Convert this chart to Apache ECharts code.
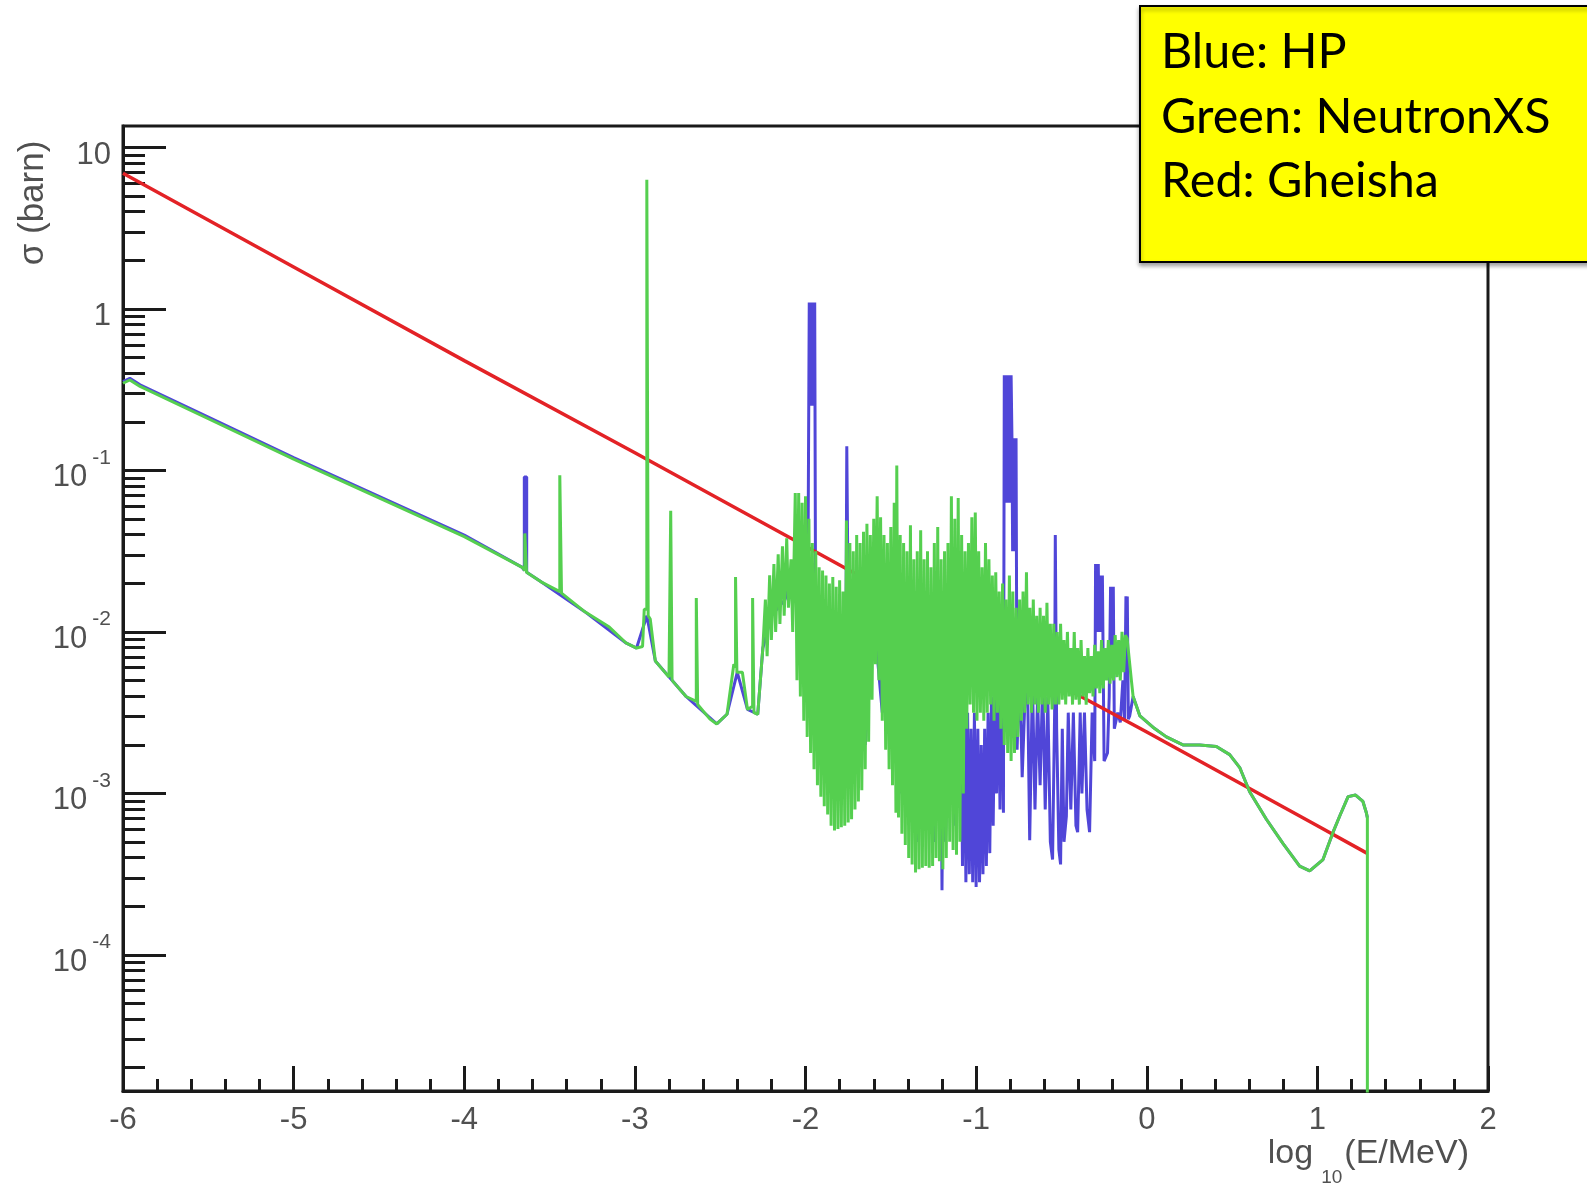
<!DOCTYPE html>
<html>
<head>
<meta charset="utf-8">
<script src="https://cdn.jsdelivr.net/npm/echarts@6/dist/echarts.min.js"></script>
<style>
html,body{margin:0;padding:0;background:#fff;}
#chart{width:1587px;height:1189px;}
</style>
</head>
<body>
<div id="chart"></div>
<script>
// x: log10(E/MeV); y: log10(sigma / barn)
const xTickLabels = [-6,-5,-4,-3,-2,-1,0,1,2];
const yDecades = [-4,-3,-2,-1,0,1];
const legendLines = ['Blue: HP','Green: NeutronXS','Red: Gheisha'];

// Red: Gheisha
const gheishaPoints = [[-6,0.84],[-5,0.26],[-4,-0.32],[-3,-0.89],[-2,-1.47],[-1,-2.05],[0,-2.62],[1,-3.20],[1.29,-3.37]];

// Blue: HP
const hpPoints = [
[-6.00,-0.45],[-5.96,-0.43],[-5.90,-0.47],[-5.50,-0.67],[-5.00,-0.92],[-4.50,-1.16],[-4.00,-1.40],
[-3.66,-1.60],[-3.648,-1.62],[-3.648,-1.04],[-3.634,-1.04],[-3.634,-1.63],[-3.55,-1.69],[-3.30,-1.87],
[-3.05,-2.07],[-2.99,-2.10],[-2.93,-1.90],[-2.88,-2.18],[-2.70,-2.40],[-2.52,-2.57],[-2.46,-2.51],
[-2.40,-2.25],[-2.34,-2.48],[-2.28,-2.51],[-2.25,-2.10],[-2.20,-1.90],[-2.12,-1.80],[-2.06,-1.60],
[-2.00,-2.10],[-1.985,-1.50],
[-1.978,0.04],[-1.974,-0.60],[-1.970,0.04],[-1.966,-0.60],[-1.962,0.04],[-1.958,-0.60],[-1.954,0.04],[-1.950,-0.60],[-1.946,0.04],
[-1.94,-2.20],[-1.93,-2.60],[-1.88,-2.00],
[-1.83,-2.90],[-1.80,-2.00],[-1.765,-2.50],[-1.758,-0.85],[-1.752,-0.85],[-1.745,-2.50],[-1.70,-2.00],
[-1.65,-2.70],[-1.60,-1.90],[-1.55,-2.50],[-1.50,-2.00],[-1.45,-3.00],[-1.40,-2.00],[-1.35,-3.30],
[-1.30,-2.00],[-1.25,-3.30],[-1.21,-2.00],[-1.20,-3.60],[-1.19,-2.20],[-1.18,-3.30],[-1.14,-2.00],
[-1.12,-3.20],[-1.09,-2.20],[-1.08,-3.45],[-1.07,-2.40],[-1.06,-3.55],[-1.05,-2.50],[-1.04,-3.50],
[-1.03,-2.60],[-1.02,-3.55],[-1.01,-2.50],[-1.00,-3.58],[-0.99,-2.60],[-0.98,-3.55],[-0.97,-2.70],
[-0.96,-3.50],[-0.95,-2.60],[-0.94,-3.45],[-0.93,-2.50],[-0.92,-3.37],[-0.91,-2.40],[-0.90,-3.20],
[-0.89,-2.30],[-0.88,-3.00],[-0.87,-2.20],[-0.86,-3.10],[-0.85,-2.00],[-0.84,-3.12],
[-0.835,-0.41],[-0.831,-1.20],[-0.827,-0.41],[-0.823,-1.20],[-0.819,-0.41],[-0.815,-1.20],[-0.811,-0.41],[-0.807,-1.20],[-0.803,-0.41],[-0.799,-1.20],[-0.795,-0.41],
[-0.790,-0.80],[-0.786,-1.50],[-0.782,-0.80],[-0.778,-1.50],[-0.774,-0.80],[-0.770,-1.50],[-0.766,-0.80],
[-0.76,-2.73],[-0.745,-2.20],[-0.73,-2.90],[-0.71,-2.30],[-0.70,-2.20],[-0.686,-3.29],[-0.67,-2.30],
[-0.655,-3.10],[-0.64,-2.40],[-0.625,-2.95],[-0.61,-2.30],[-0.595,-3.10],[-0.58,-2.40],[-0.565,-3.30],
[-0.552,-3.41],[-0.54,-2.50],[-0.536,-1.40],[-0.532,-1.40],[-0.528,-2.60],[-0.515,-3.35],[-0.505,-3.44],
[-0.495,-2.60],[-0.485,-3.30],[-0.471,-3.14],[-0.46,-2.50],[-0.445,-3.10],[-0.43,-2.50],[-0.415,-3.20],
[-0.405,-3.24],[-0.39,-2.50],[-0.38,-3.00],[-0.365,-2.50],[-0.35,-3.10],[-0.335,-3.24],[-0.32,-2.50],
[-0.305,-2.80],
[-0.300,-1.58],[-0.296,-2.00],[-0.292,-1.58],[-0.288,-2.00],[-0.284,-1.58],[-0.280,-2.00],
[-0.276,-1.65],[-0.272,-2.00],[-0.268,-1.65],[-0.264,-2.00],[-0.260,-1.65],
[-0.25,-2.80],[-0.23,-2.75],[-0.22,-2.40],
[-0.212,-1.72],[-0.208,-2.10],[-0.204,-1.72],[-0.200,-2.10],[-0.196,-1.72],
[-0.19,-2.60],[-0.17,-2.50],[-0.155,-2.56],[-0.14,-2.30],
[-0.13,-2.55],[-0.122,-1.78],[-0.118,-2.10],[-0.114,-1.78],[-0.108,-2.54],[-0.10,-2.52],[-0.08,-2.40],[-0.04,-2.52],
[0.036,-2.59],[0.115,-2.65],[0.212,-2.70],[0.31,-2.70],[0.408,-2.71],[0.486,-2.76],[0.545,-2.84],
[0.603,-2.99],[0.701,-3.16],[0.798,-3.31],[0.896,-3.45],[0.955,-3.48],[1.033,-3.41],[1.092,-3.24],
[1.131,-3.14],[1.18,-3.02],[1.224,-3.01],[1.267,-3.05],[1.287,-3.12],[1.293,-3.15]
];

// Green: NeutronXS
const neutronXSPoints = [
[-6.00,-0.46],[-5.96,-0.44],[-5.90,-0.48],[-5.50,-0.68],[-5.00,-0.93],[-4.50,-1.17],[-4.00,-1.41],
[-3.66,-1.60],[-3.645,-1.62],[-3.645,-1.39],[-3.635,-1.39],[-3.635,-1.63],[-3.55,-1.69],[-3.44,-1.75],
[-3.44,-1.03],[-3.43,-1.03],[-3.43,-1.76],[-3.30,-1.87],[-3.15,-1.97],[-3.05,-2.07],[-2.99,-2.10],
[-2.955,-2.09],[-2.945,-1.86],[-2.93,-1.86],[-2.93,0.80],[-2.922,0.80],[-2.922,-1.90],[-2.91,-1.92],
[-2.88,-2.18],[-2.80,-2.28],[-2.79,-2.29],[-2.79,-1.25],[-2.782,-1.25],[-2.782,-2.30],[-2.70,-2.40],
[-2.64,-2.43],[-2.64,-1.79],[-2.632,-1.79],[-2.632,-2.45],[-2.56,-2.54],[-2.52,-2.57],[-2.46,-2.51],
[-2.42,-2.20],[-2.41,-2.22],[-2.41,-1.66],[-2.402,-1.66],[-2.402,-2.25],[-2.37,-2.25],[-2.34,-2.48],
[-2.31,-2.46],[-2.31,-1.79],[-2.302,-1.79],[-2.302,-2.50],[-2.28,-2.51],[-2.25,-2.10],
[-2.235,-1.80],[-2.225,-2.15],[-2.21,-1.65],[-2.20,-2.05],[-2.185,-1.58],[-2.175,-2.00],[-2.16,-1.52],
[-2.15,-1.95],[-2.135,-1.47],[-2.125,-1.90],[-2.11,-1.42],[-2.10,-1.85],[-2.085,-1.55],[-2.075,-2.00],
[-2.06,-1.14],[-2.05,-2.30],[-2.04,-1.14],[-2.03,-2.40],[-2.02,-1.20],[-2.01,-2.55],[-2.00,-1.16],
[-1.99,-2.65],[-1.98,-1.30],[-1.97,-2.75],[-1.96,-1.45],[-1.95,-2.85],[-1.94,-1.50],[-1.93,-2.95],
[-1.92,-1.60],[-1.91,-3.02],[-1.90,-1.62],[-1.89,-3.08],[-1.88,-1.65],[-1.87,-3.13],[-1.86,-1.70],
[-1.85,-3.20],[-1.84,-1.66],[-1.83,-3.23],[-1.82,-1.72],[-1.81,-3.22],[-1.80,-1.68],[-1.79,-3.21],
[-1.78,-1.75],[-1.77,-3.20],[-1.76,-1.31],[-1.75,-3.18],[-1.74,-1.45],[-1.73,-3.16],[-1.72,-1.50],
[-1.71,-3.10],[-1.70,-1.40],[-1.69,-3.05],[-1.68,-1.45],[-1.67,-2.98],[-1.66,-1.38],[-1.65,-2.85],
[-1.64,-1.33],[-1.63,-2.68],[-1.62,-1.40],[-1.61,-2.42],[-1.60,-1.30],[-1.59,-2.20],[-1.58,-1.16],
[-1.57,-2.30],[-1.56,-1.29],[-1.55,-2.55],[-1.54,-1.40],[-1.53,-2.73],[-1.52,-1.45],[-1.51,-2.85],
[-1.50,-1.35],[-1.49,-2.95],[-1.48,-1.20],[-1.47,-3.12],[-1.465,-0.97],[-1.455,-3.15],[-1.445,-1.40],
[-1.435,-3.25],[-1.425,-1.45],[-1.415,-3.32],[-1.405,-1.50],[-1.395,-3.40],[-1.385,-1.34],[-1.375,-3.44],
[-1.365,-1.55],[-1.355,-3.49],[-1.345,-1.50],[-1.335,-3.47],[-1.325,-1.37],[-1.315,-3.46],[-1.305,-1.55],
[-1.295,-3.45],[-1.285,-1.50],[-1.275,-3.46],[-1.265,-1.60],[-1.255,-3.45],[-1.245,-1.45],[-1.235,-3.40],
[-1.225,-1.35],[-1.215,-3.42],[-1.205,-1.55],[-1.195,-3.47],[-1.185,-1.50],[-1.175,-3.40],[-1.165,-1.45],
[-1.155,-3.30],[-1.145,-1.16],[-1.135,-3.35],[-1.125,-1.30],[-1.115,-3.38],[-1.105,-1.17],[-1.095,-3.30],
[-1.085,-1.40],[-1.075,-3.00],[-1.065,-1.50],[-1.055,-2.60],[-1.045,-1.45],[-1.035,-2.45],[-1.025,-1.29],
[-1.015,-2.50],[-1.005,-1.26],[-0.995,-2.55],[-0.985,-1.50],[-0.975,-2.50],[-0.965,-1.60],[-0.955,-2.55],
[-0.945,-1.45],[-0.935,-2.50],[-0.925,-1.55],[-0.915,-2.45],[-0.905,-1.65],[-0.895,-2.55],[-0.885,-1.63],
[-0.875,-2.50],[-0.865,-1.75],[-0.855,-2.60],[-0.845,-1.70],[-0.835,-2.70],[-0.825,-1.80],[-0.815,-2.75],
[-0.805,-1.65],[-0.795,-2.80],[-0.785,-1.75],[-0.775,-2.75],[-0.765,-1.85],[-0.755,-2.65],[-0.745,-1.80],
[-0.735,-2.55],[-0.725,-1.75],[-0.715,-2.50],[-0.705,-1.63],[-0.695,-2.45],[-0.685,-1.85],[-0.675,-2.50],
[-0.665,-1.80],[-0.655,-2.45],[-0.645,-1.90],[-0.635,-2.50],[-0.625,-1.85],[-0.615,-2.45],[-0.605,-1.90],
[-0.595,-2.50],[-0.585,-1.82],[-0.575,-2.45],[-0.565,-1.95],[-0.555,-2.48],[-0.545,-1.95],[-0.535,-2.45],
[-0.525,-2.00],[-0.515,-2.45],[-0.505,-1.95],[-0.495,-2.42],[-0.485,-2.05],[-0.475,-2.45],[-0.465,-2.00],
[-0.455,-2.40],[-0.445,-2.10],[-0.435,-2.45],[-0.425,-2.00],[-0.415,-2.42],[-0.405,-2.10],[-0.395,-2.45],
[-0.385,-2.05],[-0.375,-2.40],[-0.365,-2.15],[-0.355,-2.45],[-0.345,-2.10],[-0.335,-2.38],[-0.325,-2.15],
[-0.315,-2.40],[-0.305,-2.08],[-0.295,-2.35],[-0.285,-2.12],[-0.275,-2.38],[-0.265,-2.05],[-0.255,-2.35],
[-0.245,-2.10],[-0.235,-2.30],[-0.225,-2.05],[-0.215,-2.32],[-0.205,-2.08],[-0.195,-2.30],[-0.185,-2.02],
[-0.175,-2.28],[-0.165,-2.05],[-0.155,-2.30],[-0.145,-2.00],[-0.135,-2.25],[-0.125,-2.02],[-0.115,-2.04],
[-0.09,-2.30],[-0.08,-2.40],[-0.04,-2.52],[0.036,-2.59],[0.115,-2.65],[0.212,-2.70],[0.31,-2.70],
[0.408,-2.71],[0.486,-2.76],[0.545,-2.84],[0.603,-2.99],[0.701,-3.16],[0.798,-3.31],[0.896,-3.45],
[0.955,-3.48],[1.033,-3.41],[1.092,-3.24],[1.131,-3.14],[1.18,-3.02],[1.224,-3.01],[1.267,-3.05],
[1.287,-3.12],[1.293,-3.15],[1.293,-6.0]
];

const Y_MIN = -4.843, Y_MAX = 1.133;
const minorY = [];
for (let n = -5; n <= 1; n++) {
  for (let k = 2; k <= 9; k++) {
    const v = n + Math.log10(k);
    if (v > Y_MIN && v < Y_MAX) minorY.push(v);
  }
}
const labelColor = '#505050';
const labelFont = '"Liberation Sans", Arial, sans-serif';
const axisColor = '#1a1a1a';

const chart = echarts.init(document.getElementById('chart'), null, {renderer: 'canvas'});
chart.setOption({
  animation: false,
  backgroundColor: '#fff',
  grid: {left: 123, right: 99, top: 126, bottom: 98, show: true, borderColor: axisColor, borderWidth: 3, backgroundColor: 'transparent'},
  xAxis: {
    type: 'value', min: -6, max: 2, interval: 1,
    axisLine: {show: true, onZero: false, lineStyle: {color: axisColor, width: 3}},
    axisTick: {show: true, inside: true, length: 25, lineStyle: {color: axisColor, width: 3}},
    minorTick: {show: true, splitNumber: 5, length: 12, lineStyle: {color: axisColor, width: 3}},
    axisLabel: {show: true, margin: 14, color: labelColor, fontSize: 31, fontFamily: labelFont,
      customValues: xTickLabels, formatter: v => String(v)},
    splitLine: {show: false}
  },
  yAxis: [{
    type: 'value', min: Y_MIN, max: Y_MAX,
    axisLine: {show: true, onZero: false, lineStyle: {color: axisColor, width: 3}},
    axisTick: {show: true, inside: true, length: 43, customValues: yDecades, lineStyle: {color: axisColor, width: 3}},
    axisLabel: {show: true, margin: 12, customValues: yDecades,
      formatter: v => v === 1 ? '{b|10}' : (v === 0 ? '{b|1}' : '{b|10}{s|' + v + '}'),
      rich: {
        b: {fontSize: 31, fontFamily: labelFont, color: labelColor, lineHeight: 46, verticalAlign: 'bottom'},
        s: {fontSize: 21, fontFamily: labelFont, color: labelColor, lineHeight: 21, verticalAlign: 'top', padding: [0,0,0,5]}
      }},
    splitLine: {show: false}
  }, {
    type: 'value', min: Y_MIN, max: Y_MAX, position: 'left',
    axisLine: {show: false, onZero: false},
    axisTick: {show: true, inside: true, length: 22, customValues: minorY, lineStyle: {color: axisColor, width: 3}},
    axisLabel: {show: false},
    splitLine: {show: false}
  }],
  series: [
    {name: 'HP', type: 'line', data: hpPoints, symbol: 'none', clip: true, z: 2,
      lineStyle: {color: '#5046d8', width: 3}},
    {name: 'Gheisha', type: 'line', data: gheishaPoints, symbol: 'none', clip: true, z: 3,
      lineStyle: {color: '#e32226', width: 3.5}},
    {name: 'NeutronXS', type: 'line', data: neutronXSPoints, symbol: 'none', clip: true, z: 4,
      lineStyle: {color: '#55cf4f', width: 3}}
  ],
  graphic: [
    {type: 'text', x: 33, y: 203, rotation: Math.PI / 2, z: 10,
      style: {text: 'σ (barn)', fontSize: 35, fontFamily: labelFont, fill: labelColor, align: 'center', verticalAlign: 'middle'}},
    {type: 'text', x: 1469, y: 1154, z: 10,
      style: {text: 'log{s|10}(E/MeV)', fontSize: 34, fontFamily: labelFont, fill: labelColor, align: 'right', verticalAlign: 'middle', lineHeight: 66,
        rich: {s: {fontSize: 19, fontFamily: labelFont, fill: labelColor, lineHeight: 19, verticalAlign: 'bottom', padding: [0, 2, 0, 8]}}}},
    {type: 'rect', z: 20, shape: {x: 1140, y: 6, width: 470, height: 256},
      style: {fill: '#ffff00', stroke: '#000', lineWidth: 2, shadowBlur: 4, shadowOffsetY: 3, shadowColor: 'rgba(0,0,0,0.35)'}},
    {type: 'text', z: 21, x: 1161, y: 52, style: {text: legendLines[0], fontSize: 48.5, fontFamily: 'Lato, sans-serif', fill: '#000', verticalAlign: 'middle'}},
    {type: 'text', z: 21, x: 1161, y: 117, style: {text: legendLines[1], fontSize: 48.5, fontFamily: 'Lato, sans-serif', fill: '#000', verticalAlign: 'middle'}},
    {type: 'text', z: 21, x: 1161, y: 181, style: {text: legendLines[2], fontSize: 48.5, fontFamily: 'Lato, sans-serif', fill: '#000', verticalAlign: 'middle'}}
  ]
});
</script>
</body>
</html>
